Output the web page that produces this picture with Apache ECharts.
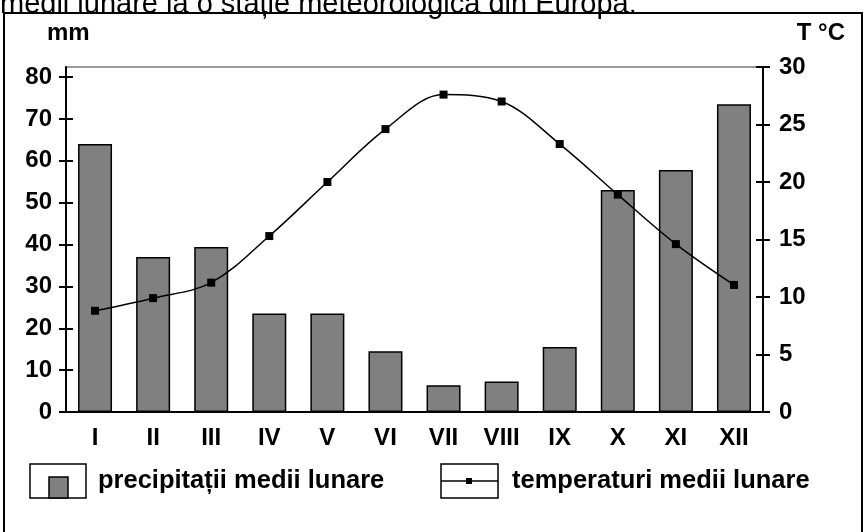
<!DOCTYPE html>
<html>
<head>
<meta charset="utf-8">
<script src="https://cdn.jsdelivr.net/npm/echarts@6/dist/echarts.min.js"></script>
<style>
  html, body { margin: 0; padding: 0; background: #fff; }
  #chart { width: 868px; height: 532px; }
</style>
</head>
<body>
<div id="chart"></div>
<script>
// months (roman numerals) and the two series
const months = ['I', 'II', 'III', 'IV', 'V', 'VI', 'VII', 'VIII', 'IX', 'X', 'XI', 'XII'];
const precipitation = [64, 37, 39.4, 23.5, 23.5, 14.5, 6.4, 7.3, 15.5, 53, 57.8, 73.5];
const temperature = [8.8, 9.9, 11.25, 15.3, 20.0, 24.6, 27.6, 27.0, 23.3, 18.9, 14.6, 11.05];
const mmTicks = [0, 10, 20, 30, 40, 50, 60, 70, 80];
const tempTicks = [0, 5, 10, 15, 20, 25, 30];

const FONT = "'Liberation Sans', Arial, sans-serif";
const labelStyle = { color: '#000', fontFamily: FONT, fontWeight: 'bold', fontSize: 24 };

const myChart = echarts.init(document.getElementById('chart'));

// value axis helper: ticks outside on the main axis, inside on a twin axis -> crossing ticks
function valueAxis(pos, max, ticks, inside) {
  return {
    type: 'value',
    position: pos,
    min: 0,
    max: max,
    splitLine: { show: false },
    axisLine: { show: !inside, lineStyle: { color: '#000', width: 2 } },
    axisTick: {
      show: true,
      inside: inside,
      length: 7,
      customValues: ticks,
      lineStyle: { color: '#000', width: 2 }
    },
    axisLabel: Object.assign({
      show: !inside,
      customValues: ticks,
      margin: pos === 'left' ? 14 : 16
    }, labelStyle)
  };
}

myChart.setOption({
  animation: false,
  grid: {
    left: 66, right: 105, top: 67, bottom: 120,
    show: true,
    borderColor: '#9a9a9a',
    borderWidth: 2
  },
  xAxis: {
    type: 'category',
    data: months,
    axisLine: { lineStyle: { color: '#000', width: 2 } },
    axisTick: { show: false },
    axisLabel: Object.assign({ margin: 14, interval: 0 }, labelStyle)
  },
  yAxis: [
    valueAxis('left', 82.4, mmTicks, false),
    valueAxis('right', 30, tempTicks, false),
    valueAxis('left', 82.4, mmTicks, true),
    valueAxis('right', 30, tempTicks, true)
  ],
  series: [
    {
      name: 'precipitații medii lunare',
      type: 'bar',
      yAxisIndex: 0,
      data: precipitation,
      barWidth: 34,
      itemStyle: { color: '#808080', borderColor: '#000', borderWidth: 1.5 }
    },
    {
      name: 'temperaturi medii lunare',
      type: 'line',
      yAxisIndex: 1,
      data: temperature,
      smooth: 0.35,
      symbol: 'rect',
      symbolSize: 8,
      lineStyle: { color: '#000', width: 1.5 },
      itemStyle: { color: '#000' }
    }
  ],
  graphic: [
    // frame around the figure
    { type: 'rect', shape: { x: 4, y: 13, width: 858, height: 540 },
      style: { fill: null, stroke: '#000', lineWidth: 2 }, silent: true },
    // caption cut off at the top
    { type: 'text', x: 0, y: -10,
      style: { text: 'medii lunare la o stație meteorologică din Europa.', fill: '#000',
               font: '29px ' + FONT } },
    { type: 'text', x: 47, y: 33,
      style: { text: 'mm', fill: '#000', font: 'bold 24px ' + FONT, verticalAlign: 'middle' } },
    { type: 'text', x: 845, y: 33,
      style: { text: 'T °C', fill: '#000', font: 'bold 24px ' + FONT, align: 'right', verticalAlign: 'middle' } },
    // legend: bars
    { type: 'rect', shape: { x: 30, y: 464, width: 56, height: 34 },
      style: { fill: '#fff', stroke: '#000', lineWidth: 1.5 } },
    { type: 'rect', shape: { x: 49, y: 477, width: 19, height: 21 },
      style: { fill: '#808080', stroke: '#000', lineWidth: 1.5 } },
    { type: 'text', x: 98, y: 481,
      style: { text: 'precipitații medii lunare', fill: '#000', font: 'bold 25.5px ' + FONT, verticalAlign: 'middle' } },
    // legend: line
    { type: 'rect', shape: { x: 441, y: 464, width: 57, height: 34 },
      style: { fill: '#fff', stroke: '#000', lineWidth: 1.5 } },
    { type: 'line', shape: { x1: 441, y1: 481, x2: 498, y2: 481 },
      style: { stroke: '#000', lineWidth: 1.5 } },
    { type: 'rect', shape: { x: 466, y: 478, width: 6, height: 6 },
      style: { fill: '#000' } },
    { type: 'text', x: 512, y: 481,
      style: { text: 'temperaturi medii lunare', fill: '#000', font: 'bold 25.5px ' + FONT, verticalAlign: 'middle' } }
  ]
});
</script>
</body>
</html>
